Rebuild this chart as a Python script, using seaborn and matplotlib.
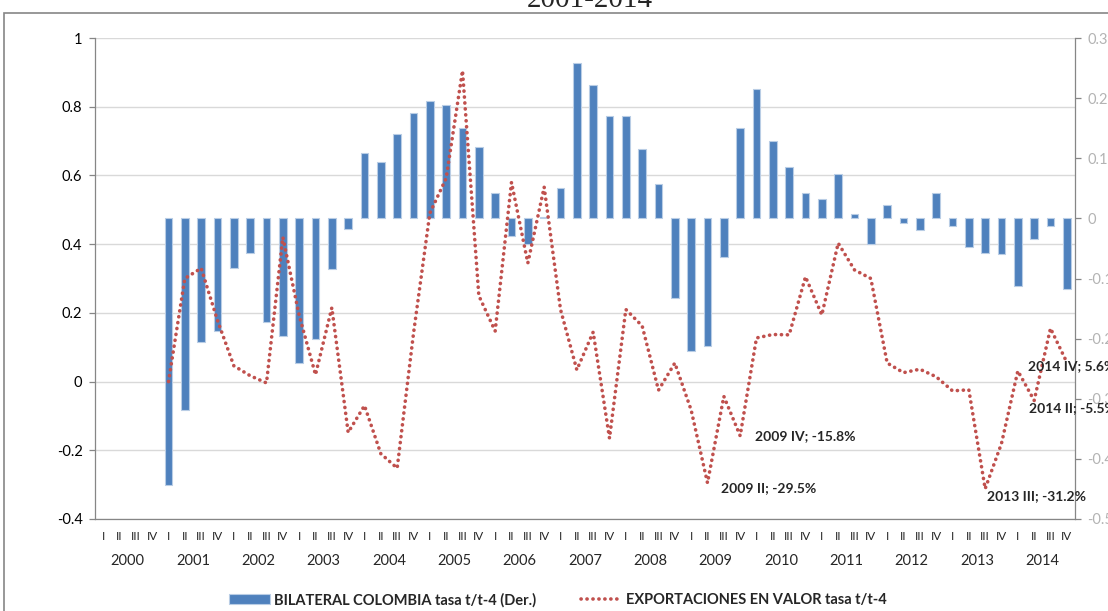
"""
Exportaciones en valor vs bilateral Colombia, tasas t/t-4, 2001-2014.
"""

import matplotlib.pyplot as plt
import matplotlib.transforms as mtransforms
from matplotlib.patches import Rectangle
import pandas as pd
import seaborn as sns

YEARS = list(range(2000, 2015))
QUARTERS = ["I", "II", "III", "IV"]

# bilateral Colombia, tasa t/t-4 (eje derecho), 2001 I .. 2014 IV
bilateral = [
    -0.444, -0.319, -0.206, -0.188,
    -0.083, -0.058, -0.173, -0.195,
    -0.240, -0.200, -0.085, -0.018,
    0.108, 0.093, 0.141, 0.176,
    0.196, 0.188, 0.151, 0.118,
    0.043, -0.030, -0.042, 0.002,
    0.050, 0.258, 0.222, 0.170,
    0.171, 0.116, 0.058, -0.133,
    -0.221, -0.213, -0.065, 0.151,
    0.216, 0.128, 0.085, 0.043,
    0.033, 0.073, 0.007, -0.043,
    0.023, -0.008, -0.020, 0.043,
    -0.012, -0.048, -0.057, -0.060,
    -0.113, -0.035, -0.013, -0.118,
]

# exportaciones en valor, tasa t/t-4 (eje izquierdo), 2001 I .. 2014 IV
exportaciones = [
    0.000, 0.300, 0.330, 0.178,
    0.046, 0.017, -0.004, 0.420,
    0.193, 0.020, 0.215, -0.148,
    -0.070, -0.210, -0.252, 0.140,
    0.490, 0.592, 0.905, 0.250,
    0.147, 0.580, 0.345, 0.566,
    0.210, 0.034, 0.144, -0.165,
    0.210, 0.162, -0.025, 0.054,
    -0.083, -0.295, -0.043, -0.158,
    0.127, 0.137, 0.136, 0.305,
    0.194, 0.403, 0.325, 0.300,
    0.054, 0.026, 0.036, 0.014,
    -0.027, -0.024, -0.312, -0.180,
    0.031, -0.055, 0.155, 0.056,
]

# etiquetas de puntos: (trimestre, texto, desplazamiento en pixeles)
annotations = [
    ("2009 II", "2009 II; -29.5%", (14, -5)),
    ("2009 IV", "2009 IV; -15.8%", (15, 0)),
    ("2013 III", "2013 III; -31.2%", (2, -7)),
    ("2014 IV", "2014 IV; 5.6%", (-39, -4)),
    ("2014 II", "2014 II; -5.5%", (-5, -8)),
]

left_ticks = [-0.4, -0.2, 0, 0.2, 0.4, 0.6, 0.8, 1]
right_ticks = [-0.5, -0.4, -0.3, -0.2, -0.1, 0, 0.1, 0.2, 0.3]

BAR_COLOR = "#4F81BD"
LINE_COLOR = "#C0504D"
AXIS_COLOR = "#868686"
FONT = ["Lato", "DejaVu Sans"]

all_quarters = [f"{y} {q}" for y in YEARS for q in QUARTERS]
data_quarters = all_quarters[4:]
df = pd.DataFrame({
    "trimestre": data_quarters,
    "pos": [all_quarters.index(k) for k in data_quarters],
    "bilateral": bilateral,
    "exportaciones": exportaciones,
})

sns.set_style("white")
plt.rcParams["font.family"] = FONT

W, H = 1108, 611
fig = plt.figure(figsize=(W / 100, H / 100), dpi=100)
ax = fig.add_axes([95 / W, 1 - 519 / H, 980 / W, 481 / H])
ax_bar = ax.twinx()
ax_line = ax.twinx()
ax.set_zorder(0)
ax_bar.set_zorder(1)
ax_line.set_zorder(2)

# barras (eje derecho)
sns.barplot(
    data=df, x="trimestre", y="bilateral", order=all_quarters,
    color=BAR_COLOR, saturation=1, width=0.45, edgecolor="#B9CDE5",
    linewidth=0.8, ax=ax_bar,
)
ax_bar.set_ylim(-0.5, 0.3)

# linea (eje izquierdo)
sns.lineplot(
    data=df, x="pos", y="exportaciones", color=LINE_COLOR, lw=2.6,
    ax=ax_line,
)
ax_line.lines[0].set_linestyle((0, (0.05, 1.6)))
ax_line.lines[0].set_dash_capstyle("round")
ax.set_ylim(-0.4, 1)
ax_line.set_ylim(ax.get_ylim())
ax.set_xlim(-0.5, len(all_quarters) - 0.5)

# ejes
for a in (ax, ax_bar, ax_line):
    a.set_xlabel("")
    a.set_ylabel("")
    for s in a.spines.values():
        s.set_visible(False)
ax.spines["left"].set_visible(True)
ax.spines["bottom"].set_visible(True)
ax_bar.spines["right"].set_visible(True)
for s in (ax.spines["left"], ax.spines["bottom"], ax_bar.spines["right"]):
    s.set_color(AXIS_COLOR)
    s.set_linewidth(0.9)

ax.set_yticks(left_ticks)
ax.set_yticklabels([f"{v:g}" for v in left_ticks])
ax.tick_params(axis="y", direction="out", length=4, width=0.9, color=AXIS_COLOR,
               pad=5, labelsize=10.5, labelcolor="black", left=True)
ax.yaxis.grid(True, color="#D9D9D9", lw=1)
ax.xaxis.grid(False)

ax_bar.set_yticks(right_ticks)
ax_bar.set_yticklabels([f"{v:g}" for v in right_ticks])
ax_bar.tick_params(axis="y", direction="out", length=4, width=0.9, color=AXIS_COLOR,
                   pad=5, labelsize=10.5, labelcolor="#B3B3B3", right=True)
ax_line.yaxis.set_visible(False)

ax.set_xticks(range(len(all_quarters)))
ax.set_xticklabels([k.split(" ")[1] for k in all_quarters])
ax.tick_params(axis="x", length=0, pad=9, labelsize=8.5)

year_trans = mtransforms.blended_transform_factory(ax.transData, ax.transAxes)
for i, y in enumerate(YEARS):
    ax.text(i * 4 + 1.5, -0.087, str(y), transform=year_trans,
            ha="center", va="center", fontsize=10.5)

# etiquetas de datos
for key, label, offset in annotations:
    row = df[df["trimestre"] == key].iloc[0]
    ax_line.annotate(
        label, xy=(row["pos"], row["exportaciones"]), xytext=offset,
        textcoords="offset pixels", ha="left", va="center",
        fontsize=10, fontweight="bold", annotation_clip=False,
    )

# leyenda
handles = [ax_bar.patches[4], ax_line.lines[0]]
leg = fig.legend(
    handles, ["BILATERAL COLOMBIA tasa t/t-4 (Der.)", "EXPORTACIONES EN VALOR tasa t/t-4"],
    loc="center", bbox_to_anchor=(558 / W, 1 - 600 / H), ncol=2, frameon=False,
    handlelength=2.75, handleheight=0.65, columnspacing=3.1, handletextpad=0.3,
    prop={"size": 10.5, "weight": "bold"},
)

# titulo recortado y marco del grafico
fig.text(590 / W, 1 - 7 / H, "2001-2014", ha="center", va="baseline",
         family="Liberation Serif", fontsize=21)
fig.patches.append(Rectangle((4 / W, -0.1), 1.2, 1 - 13 / H + 0.1, transform=fig.transFigure,
                             fill=False, edgecolor=AXIS_COLOR, lw=1.2))

fig.savefig("out.png", dpi=100)
